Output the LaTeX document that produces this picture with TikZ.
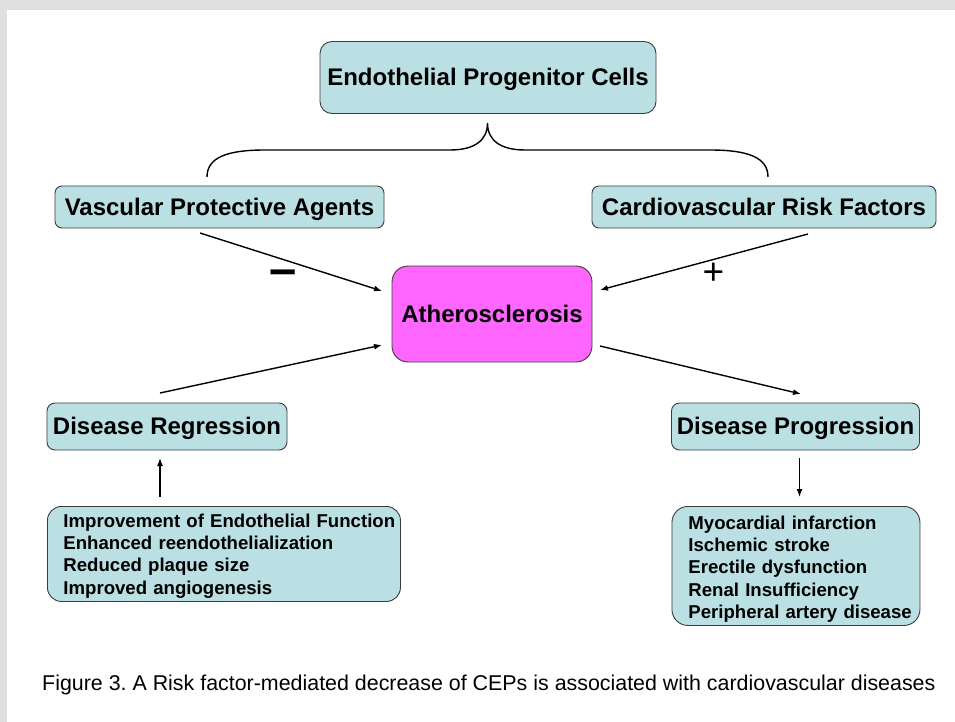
\documentclass[tikz,border=0pt]{standalone}
\usepackage{fontspec}
\setmainfont{Liberation Sans}
\usetikzlibrary{arrows.meta}
\definecolor{boxfill}{HTML}{BBE0E3}
\definecolor{boxline}{HTML}{3C3C3C}
\definecolor{athfill}{HTML}{FF66FF}
\definecolor{framegray}{HTML}{E0E0E0}
\begin{document}
\frenchspacing
\begin{tikzpicture}[x=1pt,y=-1pt,
  box/.style={draw=boxline, line width=0.9pt, fill=boxfill, rounded corners=#1,
    inner sep=0pt, font=\fontsize{24}{28}\selectfont\bfseries, align=center,
    text height=21.7pt, text depth=5.1pt},
  listbox/.style={draw=boxline, line width=0.9pt, fill=boxfill, rounded corners=#1,
    inner xsep=0pt, inner ysep=0pt, font=\fontsize{18.6}{22.4}\selectfont\bfseries, align=left, anchor=north west},
  conn/.style={line width=1.4pt, -{Latex[length=8pt,width=6pt]}},
  bracestyle/.style={line width=1.4pt},
  sign/.style={inner sep=0pt, anchor=base}
]
\useasboundingbox (0,0) rectangle (955,722);
\fill[framegray] (0,0) rectangle (955,722);
\fill[white] (7,10) rectangle (955,722);

% boxes
\node[box=12pt, minimum width=336pt, minimum height=72pt] (epc) at (488,77.5) {Endothelial Progenitor Cells};
\node[box=7pt, minimum width=329pt, minimum height=42pt] (vpa) at (219.5,207) {Vascular Protective Agents};
\node[box=7pt, minimum width=344pt, minimum height=42pt] (crf) at (764,207) {Cardiovascular Risk Factors};
\node[box=16pt, fill=athfill, minimum width=200pt, minimum height=96pt] (ath) at (492,314) {Atherosclerosis};
\node[box=8pt, minimum width=240pt, minimum height=47pt] (dr) at (167,426.5) {Disease Regression};
\node[box=8pt, minimum width=248pt, minimum height=47pt] (dp) at (795.5,426.5) {Disease Progression};
\node[listbox=14pt, minimum width=353pt, minimum height=95pt, text width=353pt] (ll) at (47,506)
  {\leftskip=16pt\rule{0pt}{17.6pt}Improvement of Endothelial Function\\Enhanced reendothelialization\\Reduced plaque size\\Improved angiogenesis\par};
\node[listbox=16pt, minimum width=248pt, minimum height=119pt, text width=248pt] (rl) at (671.5,506)
  {\leftskip=16.5pt\rule{0pt}{19.6pt}Myocardial infarction\\Ischemic stroke\\Erectile dysfunction\\Renal Insufficiency\\Peripheral artery disease\par};

% brace
\coordinate (brL) at (207,177);
\coordinate (brC) at (487.5,123);
\coordinate (brR) at (768,177);
\draw[bracestyle] (brL) .. controls (207,157) and (228,150) .. (265,150) -- (450,150)
  .. controls (475,150) and (487.5,140) .. (brC)
  .. controls (487.5,140) and (500,150) .. (525,150) -- (710,150)
  .. controls (747,150) and (768,157) .. (brR);

% arrow end points
\coordinate (a1s) at (200,233);  \coordinate (a1e) at (382,291);
\coordinate (a2s) at (808,234);  \coordinate (a2e) at (600,290);
\coordinate (a3s) at (160,393);  \coordinate (a3e) at (382,345);
\coordinate (a4s) at (600,346);  \coordinate (a4e) at (801,394);
\coordinate (a5s) at (160,497);  \coordinate (a5e) at (160,458);
\coordinate (a6s) at (799.5,458);  \coordinate (a6e) at (799.5,497);

\draw[conn] (a1s) -- (a1e);
\draw[conn] (a2s) -- (a2e);
\draw[conn] (a3s) -- (a3e);
\draw[conn] (a4s) -- (a4e);
\draw[conn] (a5s) -- (a5e);
\draw[conn] (a6s) -- (a6e);

% signs
\node[sign, font=\fontsize{49}{49}\selectfont\bfseries] (minus) at (283.5,285.5) {–};
\node[sign, font=\fontsize{37}{37}\selectfont] (plus) at (713.5,284.5) {+};

% caption
\node[inner sep=0pt, anchor=base west, font=\fontsize{21.4}{24}\selectfont] (cap) at (42,690.5)
  {Figure 3. A Risk factor-mediated decrease of CEPs is associated with cardiovascular diseases};
\end{tikzpicture}
\end{document}
